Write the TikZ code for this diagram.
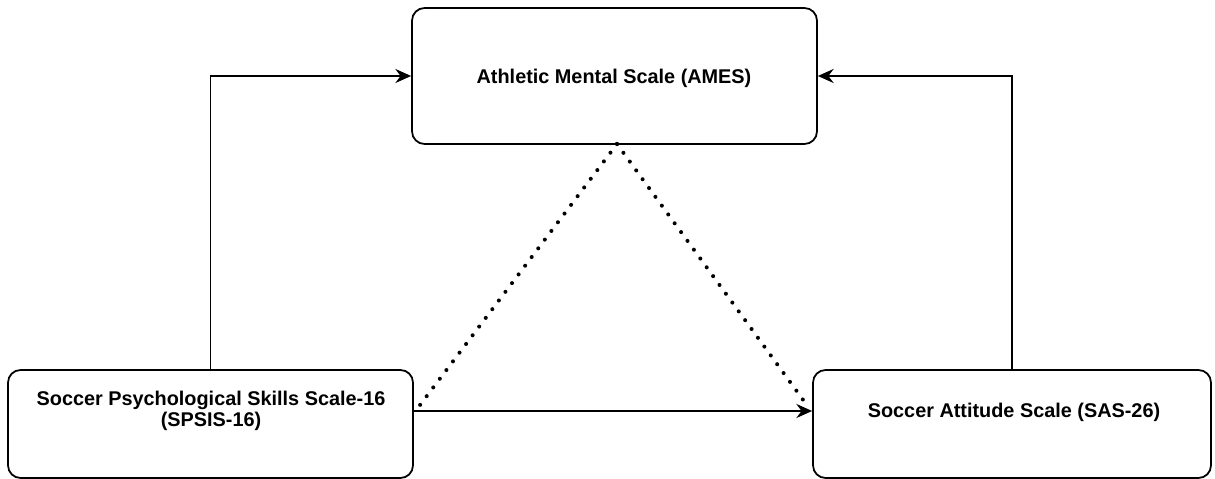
\documentclass[tikz,border=0pt]{standalone}
\usepackage{fontspec}
\setmainfont{Liberation Sans}
\usetikzlibrary{positioning,arrows.meta}

\tikzset{
  scalebox/.style={draw, line width=1pt, rounded corners=0.25cm, fill=white},
  boxtext/.style={font=\bfseries\fontsize{11.3}{12}\selectfont, align=center, inner sep=0pt},
  flow/.style={line width=1.05pt, -{Stealth[length=9pt,width=8pt,inset=3pt]}},
  dotline/.style={line width=2.3pt, line cap=round, dash pattern=on 0pt off 6.2pt}
}

\begin{document}
\begin{tikzpicture}[x=0.02cm, y=-0.02cm]
        \useasboundingbox (0,0) rectangle (1215,479);

        % Place boxes
        \node[scalebox, minimum width=8.1cm, minimum height=2.72cm]  (ames)  at (614.5,76) {};
        \node[scalebox, minimum width=8.1cm, minimum height=2.16cm]  (spsis) at (210.5,424) {};
        \node[scalebox, minimum width=7.96cm, minimum height=2.16cm] (sas)   at (1012,424) {};

        % Place texts
        \node[boxtext] (amestext)  at (614,78)  {Athletic Mental Scale (AMES)};
        \node[boxtext] (spsistext) at (211,411) {Soccer Psychological Skills Scale-16\\(SPSIS-16)};
        \node[boxtext] (sastext)   at (1014,412) {Soccer Attitude Scale (SAS-26)};

        % Dotted ends
        \coordinate (apex)  at (617,144);
        \coordinate (leftend)  at (417,409);
        \coordinate (rightend) at (809,408);

        % Draw edges
        \draw[flow] (spsis.north) |- (ames.west);
        \draw[flow] (sas.north) |- (ames.east);
        \draw[flow] (spsis.east |- spsistext) -- (sas.west |- spsistext);
        \draw[dotline] (apex) -- (leftend);
        \draw[dotline] (apex) -- (rightend);
    \end{tikzpicture}
\end{document}
